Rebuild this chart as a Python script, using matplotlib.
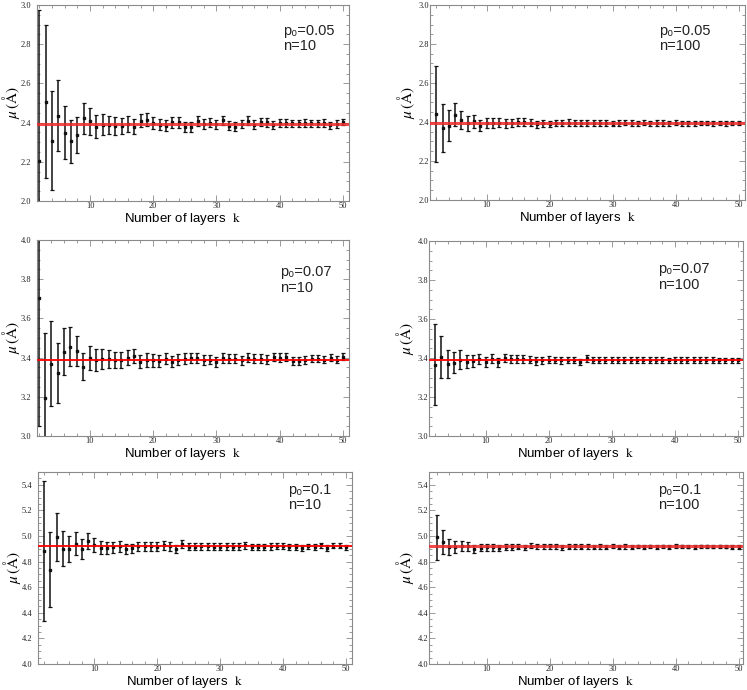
import matplotlib
matplotlib.use("Agg")
from matplotlib import pyplot as plt
from matplotlib.ticker import MultipleLocator, FormatStrFormatter

# number of layers k
k = list(range(2, 51))

# p0 = 0.05, n = 10
mu_005_n10 = [2.206, 2.507, 2.308, 2.435, 2.348, 2.305, 2.337, 2.422, 2.407, 2.379,
              2.389, 2.389, 2.384, 2.384, 2.393, 2.379, 2.410, 2.415, 2.398, 2.390,
              2.383, 2.403, 2.401, 2.379, 2.379, 2.410, 2.391, 2.400, 2.391, 2.413,
              2.383, 2.380, 2.393, 2.410, 2.390, 2.405, 2.401, 2.386, 2.398, 2.396,
              2.396, 2.396, 2.399, 2.396, 2.396, 2.398, 2.386, 2.393, 2.403]
err_005_n10 = [0.768, 0.389, 0.252, 0.180, 0.136, 0.110, 0.091, 0.078, 0.068, 0.058,
               0.053, 0.047, 0.045, 0.041, 0.041, 0.037, 0.033, 0.032, 0.030, 0.029,
               0.028, 0.028, 0.027, 0.026, 0.026, 0.025, 0.025, 0.024, 0.024, 0.023,
               0.023, 0.022, 0.022, 0.022, 0.021, 0.021, 0.021, 0.020, 0.020, 0.020,
               0.019, 0.019, 0.019, 0.019, 0.018, 0.018, 0.018, 0.018, 0.017]

# p0 = 0.05, n = 100
mu_005_n100 = [2.440, 2.368, 2.382, 2.437, 2.410, 2.394, 2.403, 2.381, 2.393, 2.395,
               2.397, 2.393, 2.395, 2.400, 2.399, 2.397, 2.388, 2.393, 2.389, 2.393,
               2.396, 2.397, 2.395, 2.393, 2.395, 2.395, 2.396, 2.394, 2.392, 2.395,
               2.397, 2.395, 2.394, 2.397, 2.394, 2.395, 2.395, 2.394, 2.396, 2.394,
               2.393, 2.394, 2.395, 2.395, 2.394, 2.395, 2.394, 2.395, 2.395]
err_005_n100 = [0.246, 0.124, 0.080, 0.058, 0.047, 0.038, 0.032, 0.027, 0.026, 0.024,
                0.023, 0.022, 0.021, 0.020, 0.019, 0.018, 0.018, 0.017, 0.017, 0.016,
                0.016, 0.016, 0.015, 0.015, 0.015, 0.015, 0.014, 0.014, 0.014, 0.014,
                0.014, 0.013, 0.013, 0.013, 0.013, 0.013, 0.013, 0.013, 0.012, 0.012,
                0.012, 0.012, 0.012, 0.012, 0.012, 0.012, 0.012, 0.012, 0.012]

# p0 = 0.07, n = 10
mu_007_n10 = [3.705, 3.196, 3.368, 3.322, 3.429, 3.456, 3.434, 3.353, 3.397, 3.388,
              3.393, 3.393, 3.388, 3.387, 3.400, 3.408, 3.380, 3.387, 3.387, 3.383,
              3.395, 3.380, 3.390, 3.395, 3.398, 3.399, 3.387, 3.390, 3.378, 3.397,
              3.395, 3.394, 3.387, 3.399, 3.394, 3.395, 3.390, 3.402, 3.400, 3.404,
              3.383, 3.383, 3.387, 3.395, 3.394, 3.390, 3.400, 3.390, 3.404]
err_007_n10 = [0.654, 0.332, 0.217, 0.155, 0.120, 0.098, 0.078, 0.069, 0.060, 0.055,
               0.050, 0.045, 0.043, 0.041, 0.039, 0.037, 0.035, 0.034, 0.033, 0.031,
               0.030, 0.029, 0.028, 0.028, 0.027, 0.026, 0.026, 0.025, 0.025, 0.024,
               0.024, 0.023, 0.023, 0.022, 0.022, 0.022, 0.021, 0.021, 0.021, 0.020,
               0.020, 0.020, 0.020, 0.019, 0.019, 0.019, 0.019, 0.018, 0.018]

# p0 = 0.07, n = 100
mu_007_n100 = [3.366, 3.404, 3.368, 3.376, 3.392, 3.382, 3.383, 3.397, 3.380, 3.396,
               3.378, 3.400, 3.394, 3.395, 3.393, 3.391, 3.385, 3.389, 3.390, 3.389,
               3.388, 3.389, 3.390, 3.380, 3.398, 3.390, 3.389, 3.389, 3.390, 3.389,
               3.390, 3.388, 3.389, 3.390, 3.389, 3.390, 3.389, 3.388, 3.390, 3.389,
               3.389, 3.390, 3.389, 3.389, 3.390, 3.389, 3.389, 3.388, 3.389]
err_007_n100 = [0.208, 0.109, 0.071, 0.054, 0.048, 0.033, 0.030, 0.026, 0.026, 0.024,
                0.023, 0.022, 0.021, 0.020, 0.020, 0.019, 0.019, 0.018, 0.018, 0.017,
                0.017, 0.017, 0.016, 0.016, 0.016, 0.016, 0.015, 0.015, 0.015, 0.015,
                0.015, 0.015, 0.015, 0.015, 0.014, 0.014, 0.014, 0.014, 0.014, 0.014,
                0.014, 0.014, 0.014, 0.014, 0.014, 0.013, 0.013, 0.013, 0.013]

# p0 = 0.1, n = 10
mu_01_n10 = [4.885, 4.738, 4.989, 4.900, 4.898, 4.940, 4.899, 4.961, 4.931, 4.910,
             4.906, 4.911, 4.920, 4.900, 4.903, 4.920, 4.918, 4.918, 4.917, 4.926,
             4.918, 4.902, 4.936, 4.917, 4.916, 4.918, 4.920, 4.916, 4.917, 4.919,
             4.916, 4.918, 4.927, 4.916, 4.917, 4.916, 4.918, 4.920, 4.919, 4.915,
             4.916, 4.906, 4.919, 4.916, 4.927, 4.905, 4.925, 4.925, 4.912]
err_01_n10 = [0.548, 0.290, 0.188, 0.137, 0.104, 0.088, 0.076, 0.060, 0.057, 0.049,
              0.047, 0.045, 0.044, 0.040, 0.038, 0.037, 0.036, 0.035, 0.034, 0.033,
              0.032, 0.031, 0.030, 0.029, 0.029, 0.028, 0.028, 0.027, 0.027, 0.026,
              0.026, 0.025, 0.025, 0.025, 0.024, 0.024, 0.024, 0.023, 0.023, 0.023,
              0.022, 0.022, 0.022, 0.022, 0.021, 0.021, 0.021, 0.021, 0.020]

# p0 = 0.1, n = 100
mu_01_n100 = [4.990, 4.952, 4.916, 4.914, 4.921, 4.919, 4.901, 4.909, 4.911, 4.911,
              4.906, 4.914, 4.916, 4.917, 4.912, 4.924, 4.918, 4.919, 4.918, 4.918,
              4.911, 4.917, 4.918, 4.917, 4.918, 4.916, 4.918, 4.917, 4.919, 4.917,
              4.918, 4.916, 4.918, 4.917, 4.918, 4.917, 4.918, 4.916, 4.920, 4.918,
              4.917, 4.916, 4.918, 4.919, 4.917, 4.918, 4.917, 4.916, 4.914]
err_01_n100 = [0.175, 0.095, 0.061, 0.047, 0.040, 0.036, 0.030, 0.027, 0.026, 0.025,
               0.024, 0.023, 0.022, 0.021, 0.021, 0.020, 0.020, 0.019, 0.019, 0.018,
               0.018, 0.018, 0.017, 0.017, 0.017, 0.017, 0.016, 0.016, 0.016, 0.016,
               0.016, 0.015, 0.015, 0.015, 0.015, 0.015, 0.015, 0.015, 0.015, 0.014,
               0.014, 0.014, 0.014, 0.014, 0.014, 0.014, 0.014, 0.014, 0.014]

# reference values (red lines)
ref_005 = 2.395
ref_007 = 3.390
ref_01 = 4.918

labels = ["p\u2080=0.05\nn=10", "p\u2080=0.05\nn=100",
          "p\u2080=0.07\nn=10", "p\u2080=0.07\nn=100",
          "p\u2080=0.1\nn=10", "p\u2080=0.1\nn=100"]

plt.rcParams['mathtext.fontset'] = 'stix'

fig = plt.figure(figsize=(7.47, 6.90), dpi=100)
W, H = 747.0, 690.0

# (left, top, right, bottom) in pixels, xlim, ylim, data, ref, text pos, red style
panels = [
    ((37, 5, 349, 201), (1.62, 50.95), (2.0, 3.0), mu_005_n10, err_005_n10, ref_005, (0.79, 0.905), 'wide'),
    ((430, 5, 745, 200), (1.01, 51.0), (2.0, 3.0), mu_005_n100, err_005_n100, ref_005, (0.726, 0.905), 'wide'),
    ((37, 240, 349, 436), (1.72, 50.9), (3.0, 4.0), mu_007_n10, err_007_n10, ref_007, (0.778, 0.87), 'thin'),
    ((429, 241, 743, 436), (1.02, 50.8), (3.0, 4.0), mu_007_n100, err_007_n100, ref_007, (0.73, 0.89), 'thin'),
    ((38, 472, 352, 664), (1.03, 50.95), (4.0, 5.5), mu_01_n10, err_01_n10, ref_01, (0.796, 0.945), 'thin'),
    ((429, 472, 743, 664), (0.8, 50.7), (4.0, 5.5), mu_01_n100, err_01_n100, ref_01, (0.728, 0.945), 'wide'),
]

spine_col = '#8a8a8a'

for i, (box, xl, yl, mu, err, ref, tpos, red) in enumerate(panels):
    x0, y0, x1, y1 = box
    ax = fig.add_axes([x0 / W, 1 - y1 / H, (x1 - x0) / W, (y1 - y0) / H])
    ax.errorbar(k, mu, yerr=err, fmt='s', color='#111111', ms=1.6,
                elinewidth=1.1, capsize=1.6, capthick=0.9, zorder=2)
    if red == 'wide':
        ax.axhline(ref, color='#ee2a2a', lw=2.2, alpha=0.85, zorder=3)
    else:
        ax.axhline(ref, color='red', lw=1.3, zorder=3)
    ax.set_xlim(*xl)
    ax.set_ylim(*yl)
    ax.set_xticks([10, 20, 30, 40, 50])
    ax.xaxis.set_minor_locator(MultipleLocator(2))
    ax.yaxis.set_major_locator(MultipleLocator(0.2))
    ax.yaxis.set_minor_locator(MultipleLocator(0.05))
    ax.yaxis.set_major_formatter(FormatStrFormatter('%.1f'))
    right_col = (i % 2 == 1)
    ax.tick_params(which='both', direction='in', top=True, right=True,
                   color=spine_col, width=0.6)
    ax.tick_params(which='major', length=4)
    ax.tick_params(which='minor', length=2)
    ax.tick_params(axis='x', pad=1.0)
    ax.tick_params(axis='y', pad=0.6 if right_col else 4.0)
    for lab in ax.get_xticklabels() + ax.get_yticklabels():
        lab.set_fontfamily('Liberation Serif')
        lab.set_fontsize(6)
        lab.set_color('#222222')
    for s in ax.spines.values():
        s.set_color(spine_col)
        s.set_linewidth(0.8)

    ax.set_xlabel(r'Number of layers  $\mathrm{k}$', fontsize=9.5,
                  fontfamily='Liberation Sans')
    ax.xaxis.set_label_coords(0.467, -0.05)
    ax.xaxis.label.set_va('top')
    ax.set_ylabel(r'$\mu\,$(Å)', fontsize=11, fontfamily='STIXGeneral')
    ax.yaxis.set_label_coords(-0.04 if right_col else -0.047, 0.5)

    ax.text(tpos[0], tpos[1], labels[i], transform=ax.transAxes,
            ha='left', va='top', fontsize=10.5, linespacing=1.15,
            family=['Liberation Sans', 'DejaVu Sans'], color='#222222')

fig.savefig('out.png', dpi=100)
